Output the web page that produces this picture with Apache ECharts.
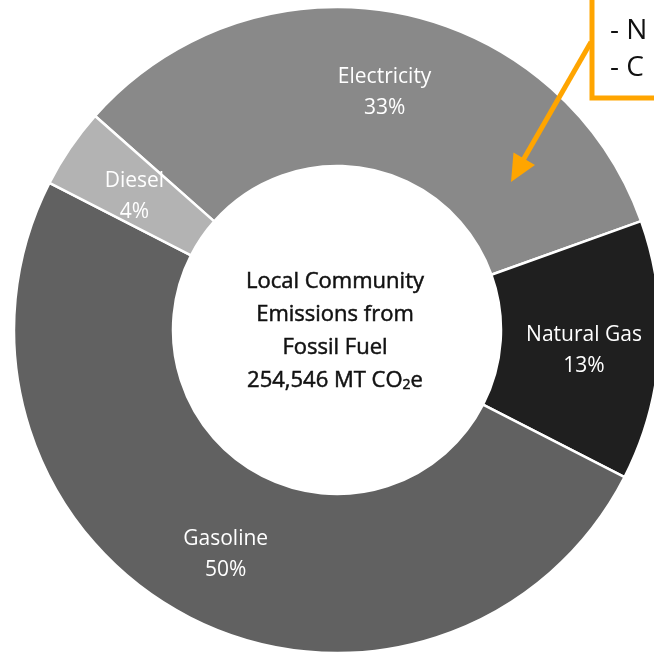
<!DOCTYPE html>
<html>
<head>
<meta charset="utf-8">
<style>
html,body{margin:0;padding:0;background:#fff;}
#chart{width:654px;height:655px;}
</style>
<script src="https://cdn.jsdelivr.net/npm/echarts@6/dist/echarts.min.js"></script>
</head>
<body>
<div id="chart"></div>
<script>
const categories = ['Electricity', 'Natural Gas', 'Gasoline', 'Diesel'];
const shares = [33, 13, 50, 4];
const colors = ['#898989', '#1f1f1f', '#616161', '#b3b3b3'];
const centerLines = ['Local Community', 'Emissions from', 'Fossil Fuel', '254,546 MT CO{sub|2}e'];
const noteLines = ['- N', '- C'];

const chart = echarts.init(document.getElementById('chart'));
const FONT = '"Open Sans", Lato, sans-serif';

chart.setOption({
  animation: false,
  backgroundColor: '#fff',
  series: [{
    type: 'pie',
    center: [337, 330],
    radius: [164, 323],
    startAngle: 138.5,
    clockwise: true,
    avoidLabelOverlap: false,
    silent: true,
    itemStyle: { borderColor: '#fff', borderWidth: 2.5 },
    label: {
      show: true,
      position: 'inside',
      color: '#fff',
      fontFamily: FONT,
      fontSize: 21,
      lineHeight: 31,
      offset: [1, 5],
      formatter: p => p.name + '\n' + p.value + '%'
    },
    labelLine: { show: false },
    data: categories.map((c, i) => ({ name: c, value: shares[i], itemStyle: { color: colors[i] } }))
  }],
  graphic: [
    {
      type: 'text',
      z: 100,
      x: 335, y: 331,
      style: {
        text: centerLines.join('\n'),
        align: 'center',
        verticalAlign: 'middle',
        fill: '#111',
        stroke: '#111',
        lineWidth: 0.5,
        font: '22px ' + FONT,
        lineHeight: 33,
        rich: {
          sub: { fontSize: 14, fontFamily: FONT, fill: '#111', verticalAlign: 'middle', padding: [9, 0, 0, 0] }
        }
      }
    },
    {
      type: 'rect',
      z: 100,
      shape: { x: 592, y: -10, width: 120, height: 108 },
      style: { fill: '#fff', stroke: '#FFA500', lineWidth: 5 }
    },
    {
      type: 'text', z: 101, x: 610, y: 31,
      style: { text: noteLines[0], fill: '#111', font: '28px ' + FONT, verticalAlign: 'middle' }
    },
    {
      type: 'text', z: 101, x: 610, y: 68,
      style: { text: noteLines[1], fill: '#111', font: '28px ' + FONT, verticalAlign: 'middle' }
    },
    {
      type: 'line', z: 100,
      shape: { x1: 591, y1: 42, x2: 522, y2: 162 },
      style: { stroke: '#FFA500', lineWidth: 5 }
    },
    {
      type: 'polygon', z: 100,
      shape: { points: [[511, 182], [513.5, 152.5], [535, 165]] },
      style: { fill: '#FFA500' }
    }
  ]
});
</script>
</body>
</html>
